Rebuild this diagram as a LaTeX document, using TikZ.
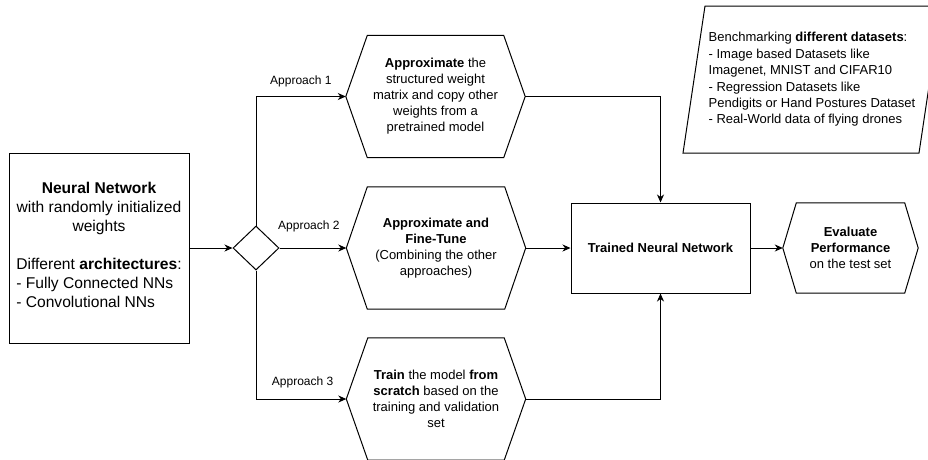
\documentclass[tikz,border=0pt]{standalone}
\usepackage{fontspec}
\setmainfont{Liberation Sans}
\usetikzlibrary{arrows.meta,shapes.geometric,calc}

% hexagon outline around a node: #1 node name, #2 horizontal inset of the corners
\newcommand\hexframe[2]{%
  \draw[line] (#1.west) -- ($(#1.north west)+(#2,0)$) -- ($(#1.north east)-(#2,0)$)
    -- (#1.east) -- ($(#1.south east)-(#2,0)$) -- ($(#1.south west)+(#2,0)$) -- cycle;}

\begin{document}
\begin{tikzpicture}[x=1pt,y=-1pt,
  line/.style={draw=black,line width=1pt},
  conn/.style={line,-{Stealth[length=8pt,width=7pt,inset=2.5pt]}},
  body/.style={font=\fontsize{13}{16}\selectfont,align=center,inner sep=0pt},
  hexa/.style={body,minimum width=179pt,minimum height=122pt},
  lbl/.style={font=\fontsize{12}{14}\selectfont,inner sep=0pt}]

\useasboundingbox (0,0) rectangle (928,459);
\fill[white] (0,0) rectangle (928,459);

% input network
\node[line,body,font=\fontsize{15.6}{19}\selectfont,minimum width=180pt,minimum height=190pt] (nn) at (99,248)
  {\textbf{Neural Network}\\with randomly initialized\\weights\\[19pt]%
   \begin{tabular}[t]{@{}l@{}}Different \textbf{architectures}:\\- Fully Connected NNs\\- Convolutional NNs\end{tabular}};

% decision
\node[line,diamond,aspect=1,inner sep=0pt,minimum width=46pt,minimum height=44pt] (dc) at (256,248) {};

% the three approaches
\node[hexa] (h1) at (435.5,96.5)
  {\textbf{Approximate} the\\structured weight\\matrix and copy other\\weights from a\\pretrained model};
\hexframe{h1}{21.5}
\node[hexa] (h2) at (436,248)
  {\textbf{Approximate and}\\\textbf{Fine-Tune}\\(Combining the other\\approaches)};
\hexframe{h2}{21}
\node[hexa] (h3) at (436,399)
  {\textbf{Train} the model \textbf{from}\\\textbf{scratch} based on the\\training and validation\\set};
\hexframe{h3}{21.5}

% result and evaluation
\node[line,body,minimum width=179pt,minimum height=90pt] (tr) at (660.5,248) {\textbf{Trained Neural Network}};
\node[body,minimum width=135pt,minimum height=90pt] (ev) at (850.5,248)
  {\textbf{Evaluate}\\\textbf{Performance}\\on the test set};
\hexframe{ev}{13.5}

% datasets note
\node[body,font=\fontsize{13}{16.4}\selectfont,align=left] (ds) at (812,79.5)
  {Benchmarking \textbf{different datasets}:\\- Image based Datasets like\\Imagenet, MNIST and CIFAR10\\- Regression Datasets like\\Pendigits or Hand Postures Dataset\\- Real-World data of flying drones};
\draw[line] (705,6) -- (941,6) -- (919,153) -- (683,153) -- cycle;

% connectors
\draw[conn] (nn.east) -- (dc.west);
\draw[conn] (dc.north) |- node[lbl,pos=0.75,above=9.5pt] (a1) {Approach 1} (h1.west);
\draw[conn] (dc.east) -- node[lbl,pos=0.44,above=15.5pt] (a2) {Approach 2} (h2.west);
\draw[conn] (dc.south) |- node[lbl,pos=0.758,above=10.5pt] (a3) {Approach 3} (h3.west);
\draw[conn] (h1.east) -| (tr.north);
\draw[conn] (h2.east) -- (tr.west);
\draw[conn] (h3.east) -| (tr.south);
\draw[conn] (tr.east) -- (ev.west);
\end{tikzpicture}
\end{document}
